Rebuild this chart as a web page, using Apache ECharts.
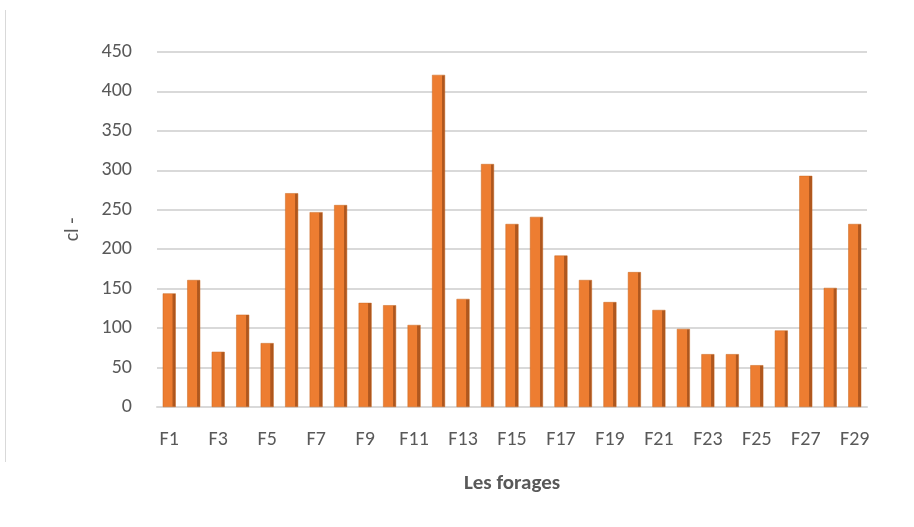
<!DOCTYPE html>
<html>
<head>
<meta charset="utf-8">
<script src="https://cdn.jsdelivr.net/npm/echarts@6/dist/echarts.min.js"></script>
<style>
  html, body { margin:0; padding:0; background:#fff; }
  #main { width:914px; height:527px; }
</style>
</head>
<body>
<div id="main"></div>
<script>
// forages F1..F29
var categories = [];
for (var i = 1; i <= 29; i++) { categories.push('F' + i); }

// teneur en chlorures (cl-)
var clValues = [144, 161, 70, 117, 81, 271, 247, 256, 132, 129,
                104, 421, 137, 308, 232, 241, 192, 161, 133, 171,
                123, 99, 67, 67, 53, 97, 293, 151, 232];

var yTicks = { min: 0, max: 450, interval: 50 };

var FONT = "Carlito, 'Liberation Sans', sans-serif";

var myChart = echarts.init(document.getElementById('main'));
var option = {
    animation: false,
    grid: {
        left: 157,
        right: 47,
        top: 52,
        bottom: 120
    },
    graphic: [{
        type: 'line',
        shape: { x1: 5.5, y1: 10, x2: 5.5, y2: 462 },
        style: { stroke: '#d9d9d9', lineWidth: 1 }
    }],
    xAxis: {
        type: 'category',
        data: categories,
        name: 'Les forages',
        nameLocation: 'middle',
        nameGap: 66,
        nameTextStyle: {
            fontFamily: FONT,
            fontSize: 21,
            fontWeight: 'bold',
            color: '#595959'
        },
        axisLine: { show: true, lineStyle: { color: '#d9d9d9', width: 2 } },
        axisTick: { show: false },
        axisLabel: {
            interval: 1,
            margin: 23,
            fontFamily: FONT,
            fontSize: 20,
            color: '#595959'
        }
    },
    yAxis: {
        type: 'value',
        min: yTicks.min,
        max: yTicks.max,
        interval: yTicks.interval,
        name: 'cl -',
        nameLocation: 'middle',
        nameGap: 74,
        nameRotate: 90,
        nameTextStyle: {
            fontFamily: FONT,
            fontSize: 20,
            color: '#595959'
        },
        axisLine: { show: false },
        axisTick: { show: false },
        axisLabel: {
            margin: 25,
            fontFamily: FONT,
            fontSize: 20,
            color: '#595959'
        },
        splitLine: { lineStyle: { color: '#d9d9d9', width: 2 } }
    },
    series: [{
        type: 'bar',
        data: clValues,
        barWidth: 13,
        itemStyle: {
            color: new echarts.graphic.LinearGradient(0, 0, 1, 0, [
                { offset: 0, color: '#ed7d31' },
                { offset: 0.74, color: '#ed7d31' },
                { offset: 0.76, color: '#b45a20' },
                { offset: 1, color: '#a8531c' }
            ]),
            borderColor: '#c8661f',
            borderWidth: 0.5
        }
    }]
};
myChart.setOption(option);
</script>
</body>
</html>
